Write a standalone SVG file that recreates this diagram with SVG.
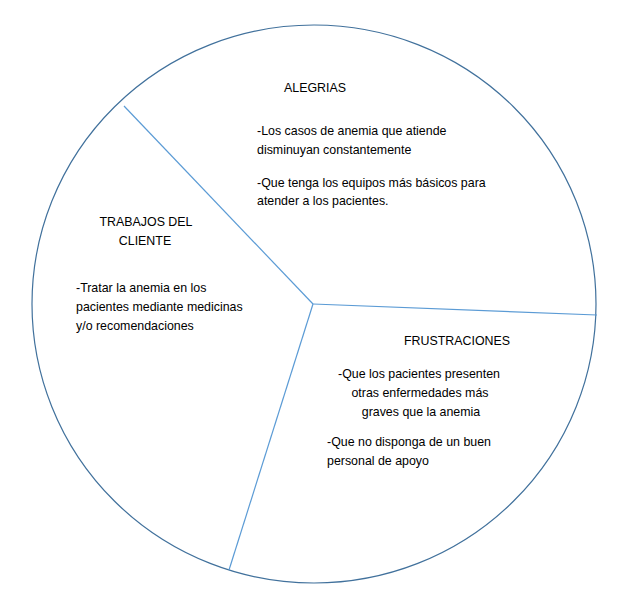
<svg xmlns="http://www.w3.org/2000/svg" width="624" height="600" viewBox="0 0 624 600">
<style>
.t{font-family:"Liberation Sans",Arial,sans-serif;font-size:12.4px;fill:#000}
.c{text-anchor:middle}
.spoke{stroke:#5B9BD5;stroke-width:1.2;fill:none}
</style>
<rect width="624" height="600" fill="#fff"/>
<g id="circle">
<ellipse cx="314" cy="304" rx="282" ry="279" fill="none" stroke="#41719C" stroke-width="1.2"/>
</g>
<g id="connectors">
<line class="spoke" x1="313" y1="304" x2="124" y2="106"/>
<line class="spoke" x1="313" y1="304" x2="597" y2="315"/>
<line class="spoke" x1="313" y1="304" x2="229" y2="570"/>
</g>
<g id="alegrias">
<text class="t c" x="315" y="92">ALEGRIAS</text>
<text class="t" x="257" y="135">-Los casos de anemia que atiende</text>
<text class="t" x="257" y="154">disminuyan constantemente</text>
<text class="t" x="257" y="187">-Que tenga los equipos más básicos para</text>
<text class="t" x="257" y="205">atender a los pacientes.</text>
</g>
<g id="trabajos">
<text class="t c" x="146" y="226">TRABAJOS DEL</text>
<text class="t c" x="145" y="245">CLIENTE</text>
<text class="t" x="76" y="292">-Tratar la anemia en los</text>
<text class="t" x="76" y="311">pacientes mediante medicinas</text>
<text class="t" x="76" y="330">y/o recomendaciones</text>
</g>
<g id="frustraciones">
<text class="t c" x="457" y="345">FRUSTRACIONES</text>
<text class="t c" x="419" y="378">-Que los pacientes presenten</text>
<text class="t c" x="420" y="397">otras enfermedades más</text>
<text class="t c" x="421" y="416">graves que la anemia</text>
<text class="t" x="327" y="446">-Que no disponga de un buen</text>
<text class="t" x="327" y="465">personal de apoyo</text>
</g>
</svg>
